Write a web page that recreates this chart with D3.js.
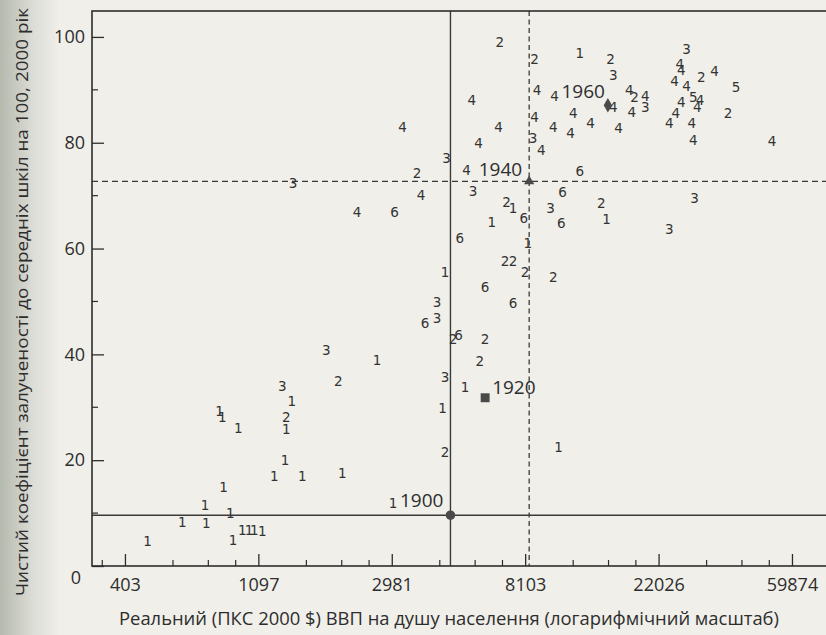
<!DOCTYPE html>
<html>
<head>
<meta charset="utf-8">
<script src="https://cdn.jsdelivr.net/npm/d3@7"></script>
<style>
  body { margin: 0; background: #efeee9; }
  svg { display: block; }
</style>
</head>
<body>
<svg id="chart" width="826" height="635"></svg>
<script>
// x = ln(real GDP per capita, PPP 2000 $), y = net secondary enrolment rate
var xTickValues = [6, 7, 8, 9, 10, 11];
var xTickLabels = ["403", "1097", "2981", "8103", "22026", "59874"];
var xMinorTicks = [5.83, 6.36, 6.625, 6.83, 7.36, 7.625, 7.83, 8.36, 8.625, 8.83, 9.36, 9.625, 9.83, 10.36, 10.625, 10.83];
var yTickValues = [0, 20, 40, 60, 80, 100];
var yMinorTicks = [10, 30, 50, 70, 90];

var group1 = [[9.41, 97.0], [8.91, 67.7], [9.61, 65.6], [8.75, 65.0], [9.02, 61.1], [8.40, 55.6],
  [8.55, 33.8], [8.38, 29.9], [9.25, 22.5], [7.89, 38.9], [7.25, 31.2], [6.71, 29.3], [6.73, 28.2],
  [6.85, 26.1], [7.21, 25.9], [7.20, 20.0], [7.12, 17.0], [7.33, 17.0], [7.63, 17.6], [6.74, 14.9],
  [8.01, 11.9], [6.60, 11.5], [6.79, 10.0], [6.43, 8.3], [6.61, 8.1], [6.88, 6.8], [6.93, 6.8],
  [6.97, 6.8], [7.03, 6.6], [6.81, 4.9], [6.17, 4.7]];
var group2 = [[8.81, 99.1], [9.07, 95.8], [9.64, 95.8], [10.32, 92.4], [9.82, 88.7], [10.52, 85.6],
  [8.19, 74.3], [8.86, 68.8], [9.57, 68.6], [8.85, 57.6], [8.91, 57.6], [9.00, 55.6], [9.21, 54.6],
  [8.46, 42.9], [8.70, 42.9], [8.66, 38.8], [7.60, 35.0], [7.21, 28.2], [8.40, 21.6]];
var group3 = [[10.21, 97.7], [9.66, 92.8], [9.90, 86.8], [9.06, 80.9], [8.41, 77.1], [7.26, 72.4],
  [8.61, 70.9], [9.19, 67.7], [10.27, 69.6], [10.08, 63.7], [8.34, 49.9], [8.34, 46.9], [8.40, 35.7],
  [7.51, 40.8], [7.18, 34.0]];
var group4 = [[10.16, 94.9], [10.17, 93.8], [10.42, 93.6], [10.12, 91.7], [10.21, 90.7], [9.78, 90.0],
  [9.90, 88.8], [10.31, 88.1], [10.29, 86.8], [10.17, 87.7], [9.66, 86.8], [9.80, 85.8], [10.13, 85.6],
  [10.08, 83.7], [10.25, 83.7], [10.26, 80.5], [10.85, 80.3], [9.49, 83.7], [9.70, 82.8], [9.36, 85.6],
  [9.34, 81.9], [9.21, 83.0], [9.07, 84.9], [9.09, 90.0], [9.22, 88.8], [9.12, 78.6], [8.60, 88.1],
  [8.80, 83.0], [8.65, 80.0], [8.08, 83.0], [8.56, 74.9], [8.22, 70.1], [7.74, 66.9]];
var group5 = [[10.26, 88.7], [10.58, 90.5]];
var group6 = [[9.41, 74.7], [9.28, 70.7], [8.99, 65.8], [9.27, 64.8], [8.51, 62.0], [8.70, 52.7],
  [8.91, 49.7], [8.25, 45.9], [8.50, 43.7], [8.02, 66.9]];

var years = ["1900", "1920", "1940", "1960"];
var yearLnGdp = [8.44, 8.70, 9.03, 9.62];
var yearEnrol = [9.6, 31.8, 72.7, 87.1];

var groups = [
  {label: "1", points: group1}, {label: "2", points: group2}, {label: "3", points: group3},
  {label: "4", points: group4}, {label: "5", points: group5}, {label: "6", points: group6}
];

var ink = "#2d2d2d";
var svg = d3.select("#chart");

// paper shading near the spine
var grad = svg.append("defs").append("linearGradient").attr("id", "spine");
grad.append("stop").attr("offset", "0").attr("stop-color", "#b5b9ae");
grad.append("stop").attr("offset", "0.55").attr("stop-color", "#dcddd6");
grad.append("stop").attr("offset", "1").attr("stop-color", "#f0efea");
svg.append("rect").attr("width", 826).attr("height", 635).attr("fill", "#f0efea");
svg.append("rect").attr("width", 60).attr("height", 635).attr("fill", "url(#spine)");

var x = d3.scaleLinear().domain([5.753, 11.36]).range([92, 840]);
var y = d3.scaleLinear().domain([0, 104.9]).range([566, 11]);

var plotLeft = x.range()[0], plotRight = x.range()[1], plotTop = y.range()[1], plotBottom = y.range()[0];

// reference lines through 1900 (solid) and 1940 (dashed)
svg.append("line").attr("x1", x(yearLnGdp[0])).attr("x2", x(yearLnGdp[0])).attr("y1", plotTop).attr("y2", plotBottom)
  .attr("stroke", "#3a3a3a").attr("stroke-width", 1.4);
svg.append("line").attr("x1", plotLeft).attr("x2", plotRight).attr("y1", y(yearEnrol[0])).attr("y2", y(yearEnrol[0]))
  .attr("stroke", "#3a3a3a").attr("stroke-width", 1.4);
svg.append("line").attr("x1", x(yearLnGdp[2])).attr("x2", x(yearLnGdp[2])).attr("y1", plotTop).attr("y2", plotBottom)
  .attr("stroke", "#3a3a3a").attr("stroke-width", 1.3).attr("stroke-dasharray", "5,3.5");
svg.append("line").attr("x1", plotLeft).attr("x2", plotRight).attr("y1", y(yearEnrol[2])).attr("y2", y(yearEnrol[2]))
  .attr("stroke", "#3a3a3a").attr("stroke-width", 1.3).attr("stroke-dasharray", "6,4");

// frame
svg.append("rect").attr("x", plotLeft).attr("y", plotTop)
  .attr("width", plotRight - plotLeft).attr("height", plotBottom - plotTop)
  .attr("fill", "none").attr("stroke", ink).attr("stroke-width", 1.6);

var xAxis = svg.append("g").attr("transform", "translate(0," + plotBottom + ")")
  .call(d3.axisBottom(x).tickValues(xTickValues).tickFormat(function(d, i) { return xTickLabels[i]; })
    .tickSizeInner(-12).tickSizeOuter(0).tickPadding(12));
xAxis.select(".domain").remove();
xAxis.selectAll("line").attr("stroke", ink).attr("stroke-width", 1.3);
xAxis.selectAll("text").attr("font-family", "Open Sans").attr("font-size", 18).attr("fill", ink);

svg.append("g").selectAll("line").data(xMinorTicks).enter().append("line")
  .attr("x1", function(d) { return x(d); }).attr("x2", function(d) { return x(d); })
  .attr("y1", plotBottom).attr("y2", plotBottom - 6).attr("stroke", ink).attr("stroke-width", 1.2);

var yAxis = svg.append("g").attr("transform", "translate(" + plotLeft + ",0)")
  .call(d3.axisLeft(y).tickValues(yTickValues).tickSizeInner(-12).tickSizeOuter(0).tickPadding(7));
yAxis.select(".domain").remove();
yAxis.selectAll("line").attr("stroke", ink).attr("stroke-width", 1.3);
yAxis.selectAll("text").attr("font-family", "Open Sans").attr("font-size", 18).attr("fill", ink);
yAxis.selectAll(".tick").filter(function(d) { return d === 0; }).select("text")
  .attr("x", -11).attr("dy", "0.95em");

svg.append("g").selectAll("line").data(yMinorTicks).enter().append("line")
  .attr("x1", plotLeft).attr("x2", plotLeft + 6)
  .attr("y1", function(d) { return y(d); }).attr("y2", function(d) { return y(d); })
  .attr("stroke", ink).attr("stroke-width", 1.2);

// numbered points
var pts = svg.append("g").attr("font-family", "DejaVu Sans").attr("font-size", 13.5).attr("fill", "#333");
groups.forEach(function(g) {
  pts.selectAll(null).data(g.points).enter().append("text")
    .attr("x", function(d) { return x(d[0]); })
    .attr("y", function(d) { return y(d[1]); })
    .attr("text-anchor", "middle").attr("dominant-baseline", "central")
    .text(g.label);
});

// year markers
var shapes = [d3.symbolCircle, d3.symbolSquare, d3.symbolTriangle, d3.symbolDiamond];
var sizes = [72, 80, 46, 60];
var labelDx = [-7, 7, -7, -3];
var labelDy = [-15, -11, -12, -14];
var labelAnchor = ["end", "start", "end", "end"];

years.forEach(function(yr, i) {
  var cx = x(yearLnGdp[i]), cy = y(yearEnrol[i]);
  svg.append("path").attr("d", d3.symbol().type(shapes[i]).size(sizes[i]))
    .attr("transform", "translate(" + cx + "," + cy + ")").attr("fill", "#4a4a4a");
  svg.append("text").attr("x", cx + labelDx[i]).attr("y", cy + labelDy[i])
    .attr("text-anchor", labelAnchor[i]).attr("dominant-baseline", "central")
    .attr("font-family", "Open Sans").attr("font-size", 19).attr("fill", ink).text(yr);
});

// axis titles
svg.append("text").attr("x", 449).attr("y", 618)
  .attr("text-anchor", "middle").attr("dominant-baseline", "central")
  .attr("font-family", "Open Sans").attr("font-size", 17.5).attr("fill", ink)
  .attr("textLength", 660).attr("lengthAdjust", "spacingAndGlyphs")
  .text("Реальний (ПКС 2000 $) ВВП на душу населення (логарифмічний масштаб)");

svg.append("text").attr("transform", "translate(21,302) rotate(-90)")
  .attr("text-anchor", "middle").attr("dominant-baseline", "central")
  .attr("font-family", "Open Sans").attr("font-size", 17).attr("fill", ink)
  .attr("textLength", 588).attr("lengthAdjust", "spacingAndGlyphs")
  .text("Чистий коефіцієнт залученості до середніх шкіл на 100, 2000 рік");
</script>
</body>
</html>
